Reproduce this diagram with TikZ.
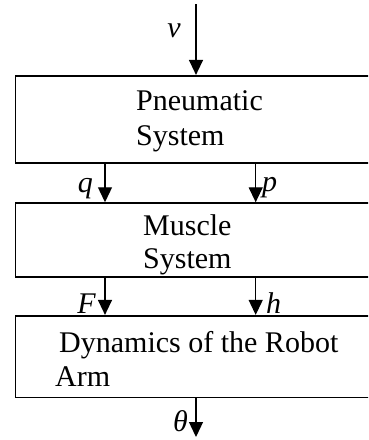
\documentclass[tikz,border=0pt]{standalone}
\usepackage{fontspec}
\setmainfont{Liberation Serif}
\usetikzlibrary{arrows.meta}
\begin{document}
\begin{tikzpicture}[x=1pt,y=-1pt,
  block/.style={draw, line width=1.6pt, rectangle, minimum width=361pt, inner sep=0pt},
  flow/.style={line width=1.3pt, -{Triangle[width=14pt,length=15pt]}},
  txt/.style={font=\fontsize{30}{34}\selectfont, inner sep=0pt, anchor=base west},
  var/.style={font=\fontsize{30}{34}\selectfont\itshape, inner sep=0pt}]
\useasboundingbox (0,0) rectangle (368,440);
\clip (0,0) rectangle (368,440);

% the three blocks of the chain
\node[block, minimum height=87pt]   (pneu) at (196,119.2) {};
\node[block, minimum height=73.7pt] (musc) at (196,239.9) {};
\node[block, minimum height=81.8pt] (arm)  at (196,356.6) {};

% block texts
\node[txt] (pneuA) at (136,110)   {Pneumatic};
\node[txt] (pneuB) at (136,145)   {System};
\node[txt] (muscA) at (143,235)   {Muscle};
\node[txt] (muscB) at (143,268.5) {System};
\node[txt] (armA)  at (59,352)    {Dynamics of the Robot};
\node[txt] (armB)  at (55,386.5)  {Arm};

% signal columns
\coordinate (vin)   at (196,4);
\coordinate (thout) at (196,437);
\coordinate (lcol)  at (105,0);
\coordinate (rcol)  at (255.7,0);

% connectors
\draw[flow] (vin) -- (pneu.north);
\draw[flow] (lcol |- pneu.south) -- (lcol |- musc.north);
\draw[flow] (rcol |- pneu.south) -- (rcol |- musc.north);
\draw[flow] (lcol |- musc.south) -- (lcol |- arm.north);
\draw[flow] (rcol |- musc.south) -- (rcol |- arm.north);
\draw[flow] (arm.south) -- (thout);

% signal names
\node[var, anchor=base east] (lv) at (181,37)  {v};
\node[var, anchor=base east] (lq) at (93,192)  {q};
\node[var, anchor=base west] (lp) at (262,191) {p};
\node[var, anchor=base east] (lF) at (96,313)  {F};
\node[var, anchor=base west] (lh) at (266,313) {h};
\node[var, anchor=base east] (lt) at (188,431) {θ};
\end{tikzpicture}
\end{document}
